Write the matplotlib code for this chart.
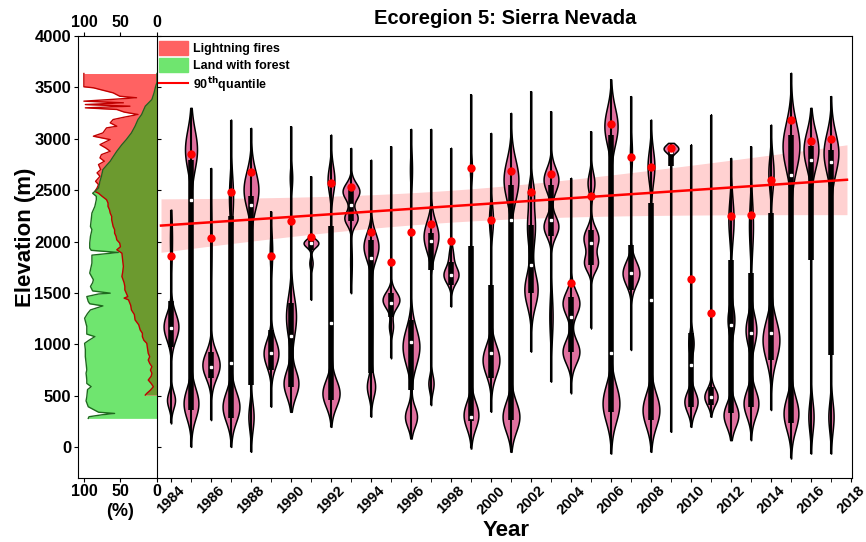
import numpy as np
import matplotlib
matplotlib.use("Agg")
import matplotlib.pyplot as plt
from matplotlib.patches import Patch, Polygon
from matplotlib.lines import Line2D

plt.rcParams['font.family'] = ['Liberation Sans', 'DejaVu Sans']
plt.rcParams['font.weight'] = 'bold'
plt.rcParams['mathtext.default'] = 'bf'

# ---- side panel: share of land with forest / lightning fires per elevation (%)
forest_elev = [280, 296, 315, 328, 340, 393, 450, 490, 560, 588, 620, 653, 720, 750, 820,
               880, 950, 1010, 1040, 1075, 1100, 1173, 1254, 1300, 1335, 1374, 1395, 1417,
               1465, 1490, 1498, 1520, 1563, 1600, 1628, 1693, 1790, 1868, 1894, 1915, 1937,
               1985, 2050, 2115, 2147, 2210, 2277, 2342, 2407, 2440, 2470, 2488, 2521, 2586,
               2635, 2700, 2749, 2781, 2814, 2846, 2878, 2943, 2992, 3057, 3122, 3187, 3236,
               3285, 3317, 3382, 3447, 3506, 3550, 3635]
forest_pct = [94, 93, 75, 58, 80, 94, 97, 96, 95, 90, 96, 96, 97, 96, 97,
              98, 98, 99, 93, 85, 96, 96, 99, 95, 91, 74, 92, 94,
              96, 80, 64, 88, 91, 88, 87, 92, 89, 89, 53, 90, 92,
              92, 91, 89, 91, 90, 89, 85, 83, 83, 88, 85, 80, 78,
              76, 74, 68, 64, 61, 58, 55, 48, 42, 35, 30, 26, 21,
              18, 16, 7, 4, 2, 0, 0]

fire_elev = [507, 523, 555, 588, 620, 653, 690, 719, 750, 783, 815, 848, 880, 913, 960,
             1010, 1040, 1075, 1108, 1140, 1190, 1238, 1290, 1335, 1380, 1433, 1450, 1465,
             1498, 1530, 1563, 1600, 1660, 1700, 1758, 1820, 1887, 1920, 1950, 1985, 2017,
             2050, 2082, 2115, 2147, 2180, 2212, 2245, 2277, 2310, 2342, 2375, 2407, 2440,
             2470, 2488, 2521, 2554, 2586, 2635, 2668, 2700, 2749, 2781, 2814, 2846, 2878,
             2910, 2943, 2992, 3025, 3057, 3106, 3122, 3155, 3187, 3210, 3236, 3260, 3285,
             3301, 3317, 3333, 3350, 3366, 3382, 3399, 3414, 3447, 3496, 3506, 3635]
fire_pct = [16, 14, 9, 5, 8, 12, 8, 7, 9, 7, 10, 12, 10, 12, 13,
            14, 18, 20, 20, 23, 25, 30, 31, 35, 36, 39, 45, 40,
            42, 44, 44, 45, 48, 47, 46, 47, 48, 55, 50, 51, 55,
            56, 58, 58, 60, 61, 62, 62, 64, 65, 67, 67, 69, 75,
            80, 85, 82, 80, 84, 78, 82, 77, 80, 72, 78, 76, 64,
            70, 78, 64, 87, 74, 69, 55, 64, 60, 45, 26, 45, 55,
            98, 37, 98, 46, 100, 64, 28, 51, 60, 87, 100, 100]

# ---- violins: one per fire year (elevation, m)
years = list(range(1984, 2018))
v_top = [2310, 3301, 2716, 3187, 3106, 2294, 3122, 2635, 3041, 2911, 2797, 2927, 3096, 3096,
         2911, 3431, 3057, 3252, 3463, 3268, 2619, 3073, 3577, 3415, 3187, 2960, 2944, 3236,
         2814, 2927, 3138, 3642, 3301, 3415]
v_bot = [231, 3, 263, 3, -45, 393, 344, 1433, 198, 1498, 296, 864, 84, 409,
         1368, -13, 344, -45, 929, 637, 523, 1157, -62, 945, -45, 149, 198, 296,
         68, 68, 361, -110, -62, -62]
q3 = [1417, 2797, 929, 2245, 2440, 1140, 1400, 2018, 2148, 2521, 2018, 1498, 1238, 2083,
      1806, 1953, 1579, 2554, 2164, 2554, 1465, 2115, 3041, 1969, 2375, 2895, 1108, 588,
      1823, 1693, 2278, 3041, 2927, 2895]
q1 = [978, 361, 669, 279, 600, 750, 588, 1920, 458, 2196, 720, 1270, 556, 1725,
      1579, 250, 669, 263, 1498, 2050, 929, 1774, 344, 1530, 263, 2732, 393, 409,
      328, 393, 848, 231, 1823, 897]
medians = [1157, 2407, 783, 815, 2359, 919, 1082, 1985, 1212, 2359, 1839, 1407, 1027, 2001,
           1676, 296, 913, 2212, 1774, 2212, 1270, 1985, 913, 1693, 1433, 2869, 800, 491,
           1189, 1108, 1114, 2651, 2791, 2771]
p90 = [1855, 2856, 2034, 2479, 2680, 1855, 2196, 2044, 2570, 2531, 2092, 1797, 2089, 2170,
       2001, 2713, 2206, 2684, 2479, 2661, 1595, 2446, 3148, 2820, 2726, 2911, 1637, 1303,
       2245, 2261, 2602, 3187, 2976, 2999]
# density modes of each violin: (centre m, spread m, half width in years)
modes = [
    [(2018, 200, 0.05), (1173, 130, 0.37), (458, 80, 0.2)],
    [(2895, 195, 0.3), (426, 146, 0.37)],
    [(800, 130, 0.43), (2000, 300, 0.03)],
    [(393, 146, 0.42), (2440, 195, 0.1), (1500, 400, 0.04)],
    [(2505, 180, 0.37), (296, 130, 0.13)],
    [(913, 130, 0.37), (1900, 150, 0.06)],
    [(1270, 195, 0.25), (620, 130, 0.37), (2620, 100, 0.06)],
    [(1985, 40, 0.37), (1790, 50, 0.08)],
    [(2602, 130, 0.17), (523, 130, 0.42), (1300, 400, 0.05)],
    [(2489, 80, 0.42), (2229, 70, 0.33), (1800, 150, 0.04)],
    [(1953, 130, 0.37), (588, 100, 0.2), (1200, 300, 0.05)],
    [(1433, 80, 0.42), (1173, 65, 0.1)],
    [(978, 180, 0.42), (296, 100, 0.3), (2700, 150, 0.05)],
    [(2050, 145, 0.37), (620, 80, 0.13)],
    [(1676, 80, 0.37), (1870, 80, 0.1)],
    [(312, 130, 0.37), (2700, 100, 0.05)],
    [(848, 146, 0.42), (2212, 130, 0.1)],
    [(2602, 195, 0.37), (296, 146, 0.42)],
    [(1530, 160, 0.33), (2150, 200, 0.2), (2500, 100, 0.1)],
    [(2602, 115, 0.37), (2148, 100, 0.37), (1270, 200, 0.08)],
    [(1400, 115, 0.42), (929, 115, 0.42)],
    [(2034, 100, 0.37), (1790, 80, 0.33), (2570, 100, 0.17)],
    [(3122, 180, 0.33), (426, 180, 0.42)],
    [(1693, 115, 0.42), (2850, 130, 0.05)],
    [(2732, 160, 0.17), (361, 160, 0.42)],
    [(2905, 40, 0.37)],
    [(1010, 100, 0.13), (442, 100, 0.33)],
    [(491, 80, 0.33)],
    [(2212, 195, 0.13), (1238, 130, 0.17), (312, 115, 0.37)],
    [(2150, 230, 0.1), (1140, 146, 0.27), (426, 130, 0.37)],
    [(2667, 160, 0.13), (1043, 195, 0.42)],
    [(2927, 230, 0.42), (328, 160, 0.37)],
    [(2895, 180, 0.37), (296, 146, 0.13)],
    [(2862, 195, 0.37), (296, 146, 0.13)],
]

# 90th quantile regression and its band
fit_x0, fit_y0, fit_slope = 2000, 2370, 13.0
band_a, band_b, band_xc = 24080, 222, 1997.5
fit_range = (1983.5, 2017.8)

pink = '#e0709f'

fig = plt.figure(figsize=(8.66, 5.42), dpi=100)
ax_s = fig.add_axes([0.0901, 0.1181, 0.0912, 0.8155])
ax = fig.add_axes([0.1813, 0.1181, 0.8025, 0.8155])

# side panel
ax_s.fill_betweenx(forest_elev, 0, forest_pct, color='#6fe56f', lw=0)
ax_s.fill_betweenx(fire_elev, 0, fire_pct, color='#ff6262', lw=0)
clip = Polygon(np.column_stack([[0] + fire_pct + [0], [fire_elev[0]] + fire_elev + [fire_elev[-1]]]),
               closed=True, transform=ax_s.transData)
olive = ax_s.fill_betweenx(forest_elev, 0, forest_pct, color='#6c9a2f', lw=0)
olive.set_clip_path(clip)
ax_s.plot(fire_pct, fire_elev, color='#c00000', lw=1)
ax_s.plot(forest_pct, forest_elev, color='#1e6a1e', lw=1)
ax_s.set_xlim(108, 0)
ax_s.set_ylim(-300, 4000)
ax_s.set_xticks([100, 50, 0])
ax_s.set_yticks(np.arange(0, 4001, 500))
ax_s.tick_params(axis='x', top=True, labeltop=True, labelsize=11.5, pad=1, length=3)
ax_s.tick_params(axis='y', labelsize=12, length=3, pad=2)
ax_s.spines['right'].set_visible(False)

# main panel
xs = np.linspace(fit_range[0], fit_range[1], 200)
fit = fit_y0 + fit_slope * (xs - fit_x0)
half = np.sqrt(band_a + band_b * (xs - band_xc) ** 2)
ax.fill_between(xs, fit - half, fit + half, color='red', alpha=0.18, lw=0, zorder=1)

for i, yr in enumerate(years):
    yy = np.linspace(v_bot[i], v_top[i], 300)
    w = np.zeros_like(yy)
    for c, s, h in modes[i]:
        w += h * np.exp(-0.5 * ((yy - c) / s) ** 2)
    w = np.minimum(w, 0.45)
    ax.fill_betweenx(yy, yr - w, yr + w, facecolor=pink, edgecolor='black', lw=1.1, zorder=2)
    ax.vlines(yr, v_bot[i], v_top[i], color='black', lw=1.5, zorder=3)
    ax.vlines(yr, q1[i], q3[i], color='black', lw=4, zorder=3)
    ax.plot(yr, medians[i], 's', color='white', ms=2, zorder=4)

ax.plot(xs, fit, color='red', lw=1.8, zorder=5)
ax.plot(years, p90, 'o', color='red', ms=6, mec='none', zorder=6)

ax.set_xlim(1983.3, 2018.05)
ax.set_ylim(-300, 4000)
ax.set_xticks(np.arange(1984, 2019, 2))
ax.set_xticks(np.arange(1984, 2019, 1), minor=True)
ax.tick_params(axis='x', which='both', direction='out', length=3, labelsize=10.5, labelrotation=45, pad=1)
ax.set_yticks(np.arange(0, 4001, 500))
ax.tick_params(axis='y', direction='in', length=3, labelleft=False)

handles = [Patch(color='#ff6262'), Patch(color='#6fe56f'), Line2D([], [], color='red', lw=1.5)]
labels = ['Lightning fires', 'Land with forest', r'90$^{th}$quantile']
ax.legend(handles, labels, loc='upper left', bbox_to_anchor=(-0.01, 1.008), frameon=False,
          fontsize=9, handlelength=2.3, handleheight=1.3, labelspacing=0.22, handletextpad=0.4,
          borderaxespad=0.3)

fig.text(0.583, 1 - 18 / 542, 'Ecoregion 5: Sierra Nevada', ha='center', va='center', fontsize=14.5)
fig.text(0.584, 1 - 530 / 542, 'Year', ha='center', va='center', fontsize=16)
fig.text(120 / 866, 1 - 511 / 542, '(%)', ha='center', va='center', fontsize=13)
fig.text(0.029, 1 - 237 / 542, 'Elevation (m)', ha='center', va='center', rotation=90, fontsize=16)

fig.savefig('out.png', dpi=100)
